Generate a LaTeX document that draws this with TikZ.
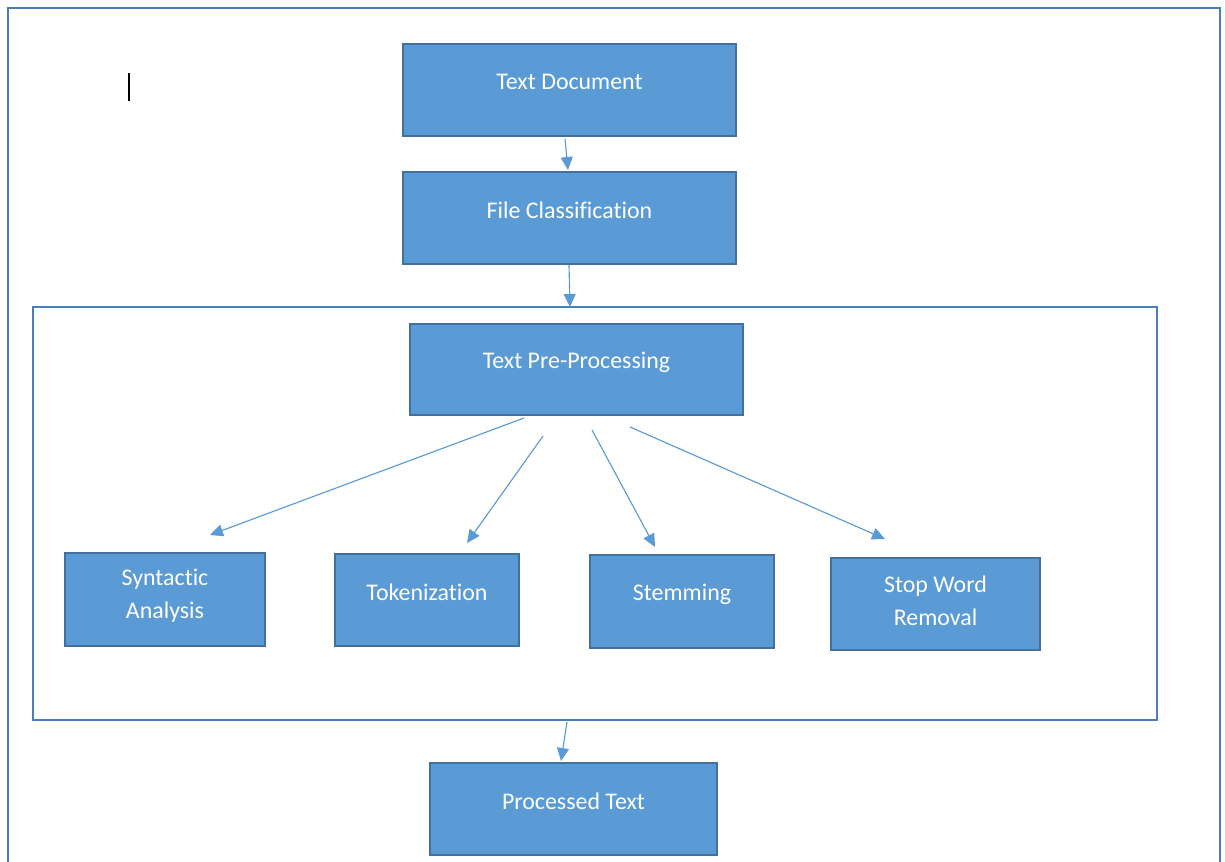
\documentclass[tikz,border=0pt]{standalone}
\usepackage{fontspec}
\setmainfont{Carlito}[Ligatures=NoCommon]
\usetikzlibrary{arrows.meta, calc}

\definecolor{boxfill}{HTML}{5B9BD5}
\definecolor{boxline}{HTML}{41719C}
\definecolor{frameline}{HTML}{4A7EBB}

\begin{document}
\begin{tikzpicture}[x=0.02cm, y=-0.02cm,
    box/.style={draw=boxline, fill=boxfill, line width=1.3pt, inner sep=0pt},
    lbl/.style={text=white, font=\fontsize{13.6}{18.8}\selectfont, align=center, inner sep=0pt},
    frame/.style={draw=frameline, line width=1.2pt},
    flow/.style={draw=boxfill, line width=0.65pt, -{Triangle[length=0.26cm, width=0.24cm]}}]
    \clip (0,0) rectangle (1225,862);

    % page frame, its bottom edge runs off the picture
    \draw[frame] (8,900) -- (8,8) -- (1220,8) -- (1220,900);
    % text cursor
    \draw[line width=1.1pt] (129,73) -- (129,101);

    % top of the flow
    \node[box, minimum width=6.66cm, minimum height=1.84cm] (doc) at (569.5,90) {};
    \node[lbl] (docText) at ($(doc.north)+(0,39)$) {Text Document};
    \node[box, minimum width=6.66cm, minimum height=1.84cm] (file) at (569.5,218) {};
    \node[lbl] (fileText) at ($(file.north)+(0,39)$) {File Classification};

    % pre-processing stage
    \node[frame, minimum width=22.48cm, minimum height=8.26cm, inner sep=0pt] (stage) at (595,513.5) {};
    \node[box, minimum width=6.66cm, minimum height=1.82cm] (pre) at (576.5,369.5) {};
    \node[lbl] (preText) at ($(pre.north)+(0,39)$) {Text Pre-Processing};

    \node[box, minimum width=4cm, minimum height=1.86cm] (syn) at (165,599.5) {};
    \node[lbl] (synText) at ($(syn.north)+(0,43.5)$) {Syntactic\\Analysis};
    \node[box, minimum width=3.68cm, minimum height=1.84cm] (tok) at (427,600) {};
    \node[lbl] (tokText) at ($(tok.north)+(0,39)$) {Tokenization};
    \node[box, minimum width=3.68cm, minimum height=1.86cm] (stem) at (682,601.5) {};
    \node[lbl] (stemText) at ($(stem.north)+(0,40)$) {Stemming};
    \node[box, minimum width=4.18cm, minimum height=1.84cm] (stop) at (935.5,604) {};
    \node[lbl] (stopText) at ($(stop.north)+(0,43.5)$) {Stop Word\\Removal};

    % result
    \node[box, minimum width=5.74cm, minimum height=1.84cm] (out) at (573.5,809) {};
    \node[lbl] (outText) at ($(out.north)+(0,39)$) {Processed Text};

    % arrow ends
    \coordinate (docOut) at (565,139);
    \coordinate (fileIn) at (568,170);
    \coordinate (fileOut) at (569,265);
    \coordinate (stageIn) at (570,307);
    \coordinate (synFrom) at (524,418);
    \coordinate (synTo) at (210,535);
    \coordinate (tokFrom) at (543,436);
    \coordinate (tokTo) at (467,543);
    \coordinate (stemFrom) at (592,430);
    \coordinate (stemTo) at (655,547);
    \coordinate (stopFrom) at (630,427);
    \coordinate (stopTo) at (885,539);
    \coordinate (stageOut) at (567,722);
    \coordinate (outIn) at (561,761);

    \draw[flow] (docOut) -- (fileIn);
    \draw[flow] (fileOut) -- (stageIn);
    \draw[flow] (synFrom) -- (synTo);
    \draw[flow] (tokFrom) -- (tokTo);
    \draw[flow] (stemFrom) -- (stemTo);
    \draw[flow] (stopFrom) -- (stopTo);
    \draw[flow] (stageOut) -- (outIn);
\end{tikzpicture}
\end{document}
